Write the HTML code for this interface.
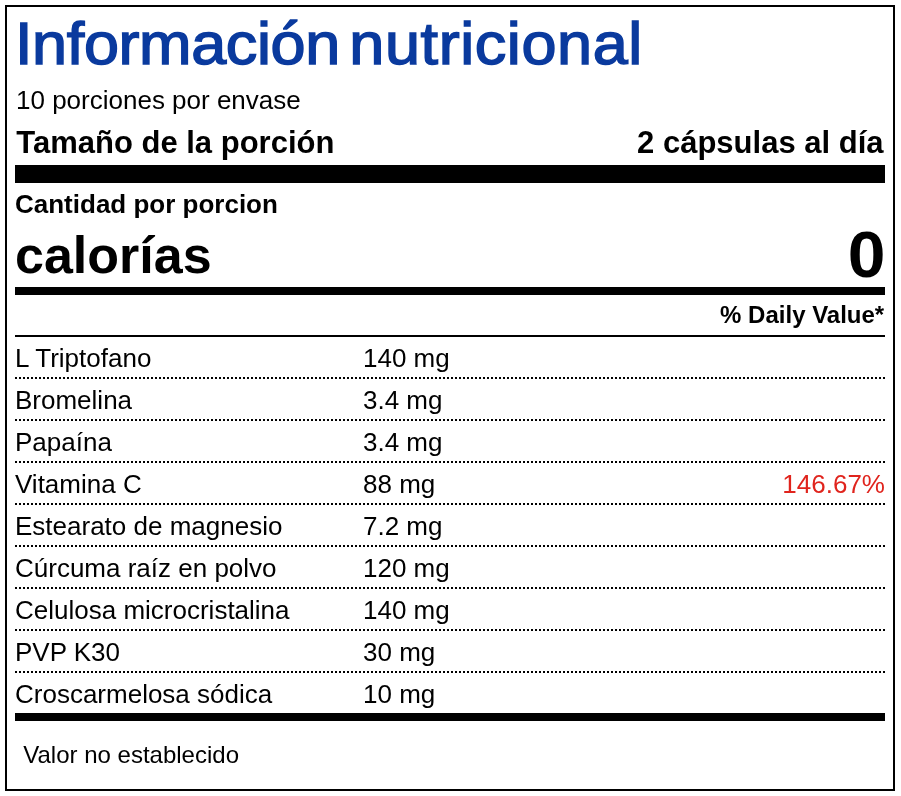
<!DOCTYPE html>
<html lang="es">
<head>
<meta charset="utf-8">
<title>Información nutricional</title>
<style>
html,body{margin:0;padding:0;background:#fff;}
body{width:901px;height:796px;position:relative;overflow:hidden;font-family:"Liberation Sans",Arial,Helvetica,sans-serif;color:#000;}
.box{position:absolute;left:5px;top:5px;width:886px;height:782px;border:2px solid #000;}
.t{position:absolute;line-height:1;white-space:nowrap;}
.b{font-weight:bold;}
.bar{position:absolute;left:15px;width:870px;background:#000;}
.dot{position:absolute;left:15px;width:870px;height:2px;background:repeating-linear-gradient(to right,#000 0,#000 2px,transparent 2px,transparent 4px);}
.title{color:#0a3a9e;-webkit-text-stroke:1.5px #0a3a9e;transform:scaleX(1.05);transform-origin:0 0;}
.pct{color:#e0241d;}
</style>
</head>
<body>
<div class="box"></div>

<div class="t title" style="left:14.84px;top:13.81px;font-size:60px;word-spacing:-7.7px;"><span style="letter-spacing:-0.37px">Información</span> <span style="letter-spacing:0.55px">nutricional</span></div>
<div class="t " style="left:16px;top:87.29px;font-size:26px;">10 porciones por envase</div>
<div class="t b" style="left:16.3px;top:127.36px;font-size:31px;">Tamaño de la porción</div>
<div class="t b" style="right:17.5px;top:127.36px;font-size:31px;">2 cápsulas al día</div>
<div class="bar" style="top:165px;height:18px"></div>
<div class="t b" style="left:15px;top:190.99px;font-size:26px;">Cantidad por porcion</div>
<div class="t b" style="left:15px;top:228.98px;font-size:52px;">calorías</div>
<div class="t b" style="right:15.6px;top:222.82px;font-size:64px;transform:scaleX(1.06);transform-origin:100% 0;">0</div>
<div class="bar" style="top:287px;height:8px"></div>
<div class="t b" style="right:16.8px;top:303.48px;font-size:24px;">% Daily Value*</div>
<div class="bar" style="top:335px;height:2px"></div>
<div class="t " style="left:15px;top:344.99px;font-size:26px;">L Triptofano</div>
<div class="t " style="left:363px;top:344.99px;font-size:26px;">140 mg</div>
<div class="dot" style="top:377px"></div>
<div class="t " style="left:15px;top:386.99px;font-size:26px;">Bromelina</div>
<div class="t " style="left:363px;top:386.99px;font-size:26px;">3.4 mg</div>
<div class="dot" style="top:419px"></div>
<div class="t " style="left:15px;top:428.99px;font-size:26px;">Papaína</div>
<div class="t " style="left:363px;top:428.99px;font-size:26px;">3.4 mg</div>
<div class="dot" style="top:461px"></div>
<div class="t " style="left:15px;top:470.99px;font-size:26px;">Vitamina C</div>
<div class="t " style="left:363px;top:470.99px;font-size:26px;">88 mg</div>
<div class="t pct" style="right:16px;top:470.99px;font-size:26px;">146.67%</div>
<div class="dot" style="top:503px"></div>
<div class="t " style="left:15px;top:512.99px;font-size:26px;">Estearato de magnesio</div>
<div class="t " style="left:363px;top:512.99px;font-size:26px;">7.2 mg</div>
<div class="dot" style="top:545px"></div>
<div class="t " style="left:15px;top:554.99px;font-size:26px;">Cúrcuma raíz en polvo</div>
<div class="t " style="left:363px;top:554.99px;font-size:26px;">120 mg</div>
<div class="dot" style="top:587px"></div>
<div class="t " style="left:15px;top:596.99px;font-size:26px;">Celulosa microcristalina</div>
<div class="t " style="left:363px;top:596.99px;font-size:26px;">140 mg</div>
<div class="dot" style="top:629px"></div>
<div class="t " style="left:15px;top:638.99px;font-size:26px;">PVP K30</div>
<div class="t " style="left:363px;top:638.99px;font-size:26px;">30 mg</div>
<div class="dot" style="top:671px"></div>
<div class="t " style="left:15px;top:680.99px;font-size:26px;">Croscarmelosa sódica</div>
<div class="t " style="left:363px;top:680.99px;font-size:26px;">10 mg</div>
<div class="bar" style="top:713px;height:8px"></div>
<div class="t " style="left:23.3px;top:742.88px;font-size:24px;">Valor no establecido</div>
</body>
</html>
